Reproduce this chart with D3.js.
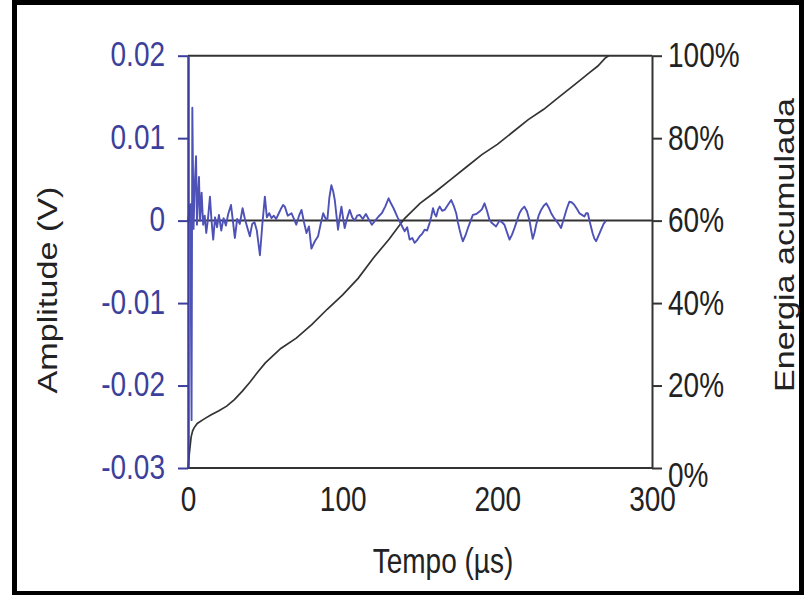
<!DOCTYPE html>
<html>
<head>
<meta charset="utf-8">
<script src="https://cdn.jsdelivr.net/npm/d3@7"></script>
<style>
  body { margin: 0; background: #fff; }
  text { font-family: "Liberation Sans", Arial, sans-serif; }
</style>
</head>
<body>
<script>
// waveform (time in us, amplitude in V)
var waveT = [0, 1.5, 2.3, 2.8, 3.6, 4.3, 5.2, 5.8, 6.5, 7.1, 7.8, 8.8, 9.8, 10.8, 11.8, 12.8, 14.2, 15.2, 16.3, 17.5,
  18.8, 20, 21.5, 23, 24.5, 26, 27.8, 29, 30.3, 31.8, 33.5, 35.3, 36.8, 38.3, 40, 41.5, 43, 44.5, 46.5, 48,
  49.7, 51, 52.5, 54, 55.5, 57, 58.5, 60, 61.5, 62.6, 64.5, 66.9, 68.5, 70, 71.8, 73.4, 75, 76.6, 78.2, 79.8,
  82, 84.1, 85.8, 87.4, 88.8, 90.1, 91.4, 92.7, 93.8, 94.9, 96, 97, 98.1, 99.2, 100.2, 101.3, 102.9, 104.5, 106.2, 107.8,
  109.4, 111, 113, 115, 117, 118.9, 121, 123.2, 125.3, 127.5, 129.7, 131.2, 132.9, 135.5, 137.9, 140.1, 141.7, 143.3, 145, 146.5,
  148, 149.8, 151.4, 153, 154.6, 156.2, 157.3, 158.4, 159.5, 160.5, 161.6, 162.7, 164.3, 165.9, 168, 170.2, 171.8, 173.4, 174.5, 175.6,
  176.7, 177.7, 179.4, 181, 182.6, 184.2, 186.4, 188.5, 190.1, 191.7, 193.3, 194.9, 196.5, 199.2, 201.4, 203, 204.6, 206.2, 207.9, 209.5,
  211.1, 212.7, 214.3, 215.9, 217.5, 219.2, 220.8, 221.9, 222.9, 224, 225.1, 226.7, 228.3, 230, 231.6, 233.2, 234.8, 236.4, 238, 239.6,
  241.2, 242.3, 243.4, 245, 246.6, 248.2, 249.8, 251.5, 253.1, 254.7, 256.3, 257.4, 258.5, 260.1, 261.7, 262.8, 263.9, 265.5, 267.1, 268.7,
  270.3];
var waveV = [0, 0.002, -0.0242, 0.0137, -0.001, 0.004, 0.0078, -0.0005, 0.003, 0.0053, 0.0, 0.0034, -0.0005, 0.0006, -0.0015, 0.0, 0.0029, 0.0, -0.0023, 0.0004,
  -0.0008, 0.0007, -0.0012, 0.0003, -0.0006, 0.0008, 0.0019, 0.0, -0.0021, 0.0002, -0.0004, 0.0015, 0.0002, -0.0008, -0.0019, -0.0004, -0.0002, -0.0012, -0.0042, -0.0006,
  0.0029, 0.0004, 0.0009, 0.0003, 0.0006, 0.0002, 0.0008, 0.0014, 0.0019, 0.0017, 0.0006, 0.0009, 0.0002, -0.0005, 0.0006, 0.0013, -0.0002, -0.0015, -0.0007, -0.0034,
  -0.0025, -0.0019, -0.0004, 0.0009, 0.0003, 0.0001, 0.0028, 0.0043, 0.0036, 0.0025, 0.0006, -0.0011, 0.0004, 0.0017, 0.0004, -0.0009, 0.0003, 0.0013, 0.0004, 0.0,
  0.0006, 0.0007, 0.0002, 0.0008, 0.0001, -0.0005, 0.0, 0.0005, 0.0009, 0.0017, 0.0027, 0.0021, 0.0015, 0.0004, -0.0005, -0.0013, -0.0008, -0.0023, -0.0021, -0.0027,
  -0.0024, -0.0019, -0.0016, -0.0011, -0.0012, -0.0003, 0.0005, 0.0015, 0.0008, 0.0005, 0.0013, 0.0017, 0.0012, 0.0013, 0.0019, 0.0025, 0.0018, 0.0009, -0.0002, -0.0011,
  -0.0019, -0.0025, -0.0018, -0.0009, -0.0001, 0.0007, 0.0008, 0.0011, 0.0014, 0.0021, 0.0012, 0.0001, -0.0003, -0.0007, 0.0, -0.0002, -0.0005, -0.0014, -0.0023, -0.0017,
  -0.0009, 0.0, 0.0009, 0.0014, 0.0017, 0.0011, 0.0, -0.0012, -0.0022, -0.0015, -0.0005, 0.0006, 0.0013, 0.0018, 0.0021, 0.0016, 0.0009, 0.0004, 0.0, -0.0004,
  -0.0009, -0.0002, 0.0005, 0.0015, 0.0023, 0.0022, 0.0019, 0.0014, 0.0009, 0.0007, 0.0005, 0.0009, 0.0009, -0.0004, -0.0016, -0.0022, -0.0025, -0.0018, -0.0011, -0.0004,
  0.0];

// accumulated energy (%)
var energyT = [0, 1, 2, 3, 4, 6, 10, 15, 20, 25, 30, 35, 40, 45, 50, 60, 70, 80, 90, 100, 110, 120,
  130, 140, 150, 160, 170, 180, 190, 200, 210, 220, 230, 240, 250, 260, 265, 270, 272];
var energyP = [0, 4, 7.5, 9, 9.8, 10.8, 11.8, 12.9, 13.9, 15, 16.6, 18.6, 20.8, 23.2, 25.5, 29, 31.5, 34.8, 38.5, 42, 46, 51,
  55.5, 60.5, 64.2, 67, 70, 73, 76, 78.5, 81.5, 84.5, 87, 90, 93, 96, 97.5, 99.5, 100];

var leftTicks = [0.02, 0.01, 0, -0.01, -0.02, -0.03];
var leftLabels = ["0.02", "0.01", "0", "-0.01", "-0.02", "-0.03"];
var rightTicks = [0, 20, 40, 60, 80, 100];
var xTicks = [0, 100, 200, 300];

function init(){
    var w = 805;
    var h = 595;
    var blue = "#3c3f9c";
    var dark = "#333";
    var sy = 1.22; // text in the picture is a bit taller than wide

    var svg = d3.select("body")
                .append("svg")
                .attr("width", w)
                .attr("height", h);

    // outer frame
    svg.append("rect")
        .attr("x", 14.5).attr("y", 2.5)
        .attr("width", 787).attr("height", 591)
        .attr("fill", "none")
        .attr("stroke", "#000")
        .attr("stroke-width", 5);

    var xScale = d3.scaleLinear().domain([0, 300]).range([188, 652]);
    var yLeft = d3.scaleLinear().domain([-0.03, 0.02]).range([468, 55.7]);
    var yRight = d3.scaleLinear().domain([0, 100]).range([468, 55.7]);

    // horizontal lines: top, zero, bottom
    [0.02, 0, -0.03].forEach(function(v){
        svg.append("line")
            .attr("x1", xScale(0)).attr("x2", xScale(300))
            .attr("y1", yLeft(v)).attr("y2", yLeft(v))
            .attr("stroke", dark)
            .attr("stroke-width", 2);
    });

    // energy curve
    var energy = energyT.map(function(t, i){ return [t, energyP[i]]; });
    svg.append("path")
        .datum(energy)
        .attr("fill", "none")
        .attr("stroke", dark)
        .attr("stroke-width", 1.7)
        .attr("d", d3.line()
            .x(function(d){ return xScale(d[0]); })
            .y(function(d){ return yRight(d[1]); }));

    // waveform
    var wave = waveT.map(function(t, i){ return [t, waveV[i]]; });
    svg.append("path")
        .datum(wave)
        .attr("fill", "none")
        .attr("stroke", "#4e51b6")
        .attr("stroke-width", 1.9)
        .attr("stroke-linejoin", "round")
        .attr("d", d3.line()
            .x(function(d){ return xScale(d[0]); })
            .y(function(d){ return yLeft(d[1]); }));

    // left axis (blue)
    var gl = svg.append("g")
        .attr("transform", "translate(" + xScale(0) + ",0)")
        .call(d3.axisLeft(yLeft)
            .tickValues(leftTicks)
            .tickFormat(function(d, i){ return leftLabels[i]; })
            .tickSize(10)
            .tickPadding(13)
            .tickSizeOuter(0));
    gl.select(".domain").attr("stroke", blue).attr("stroke-width", 2.5);
    gl.selectAll(".tick line").attr("stroke", blue).attr("stroke-width", 2);
    gl.selectAll(".tick text")
        .attr("fill", blue)
        .style("font-size", "28px")
        .attr("dy", null)
        .attr("transform", "scale(1," + sy + ")")
        .attr("y", 10 / sy);

    // right axis
    var gr = svg.append("g")
        .attr("transform", "translate(" + xScale(300) + ",0)")
        .call(d3.axisRight(yRight)
            .tickValues(rightTicks)
            .tickFormat(function(d){ return d + "%"; })
            .tickSize(10)
            .tickPadding(6)
            .tickSizeOuter(0));
    gr.select(".domain").attr("stroke", dark).attr("stroke-width", 2);
    gr.selectAll(".tick line").attr("stroke", dark).attr("stroke-width", 2);
    gr.selectAll(".tick text")
        .attr("fill", "#222")
        .style("font-size", "28px")
        .attr("dy", null)
        .attr("transform", "scale(1," + sy + ")")
        .attr("y", function(d){ return (d === 0 ? 18 : 11) / sy; });

    // bottom axis labels only
    var gb = svg.append("g")
        .attr("transform", "translate(0," + yLeft(-0.03) + ")")
        .call(d3.axisBottom(xScale)
            .tickValues(xTicks)
            .tickSize(0)
            .tickPadding(20));
    gb.select(".domain").remove();
    gb.selectAll(".tick text")
        .attr("fill", "#222")
        .style("font-size", "28px")
        .attr("dy", null)
        .attr("transform", "scale(1," + sy + ")")
        .attr("y", 43 / sy);

    // titles
    svg.append("text")
        .attr("transform", "translate(443,573) scale(1," + sy + ")")
        .attr("text-anchor", "middle")
        .style("font-size", "28px")
        .attr("fill", "#222")
        .text("Tempo (\u00b5s)");

    svg.append("text")
        .attr("transform", "translate(57,290) scale(1," + sy + ") rotate(-90)")
        .attr("text-anchor", "middle")
        .style("font-size", "28px")
        .attr("fill", "#222")
        .text("Amplitude (V)");

    svg.append("text")
        .attr("transform", "translate(794,245) scale(1," + sy + ") rotate(-90)")
        .attr("text-anchor", "middle")
        .style("font-size", "28px")
        .attr("fill", "#222")
        .text("Energia acumulada");
}
window.onload = init;
</script>
</body>
</html>
